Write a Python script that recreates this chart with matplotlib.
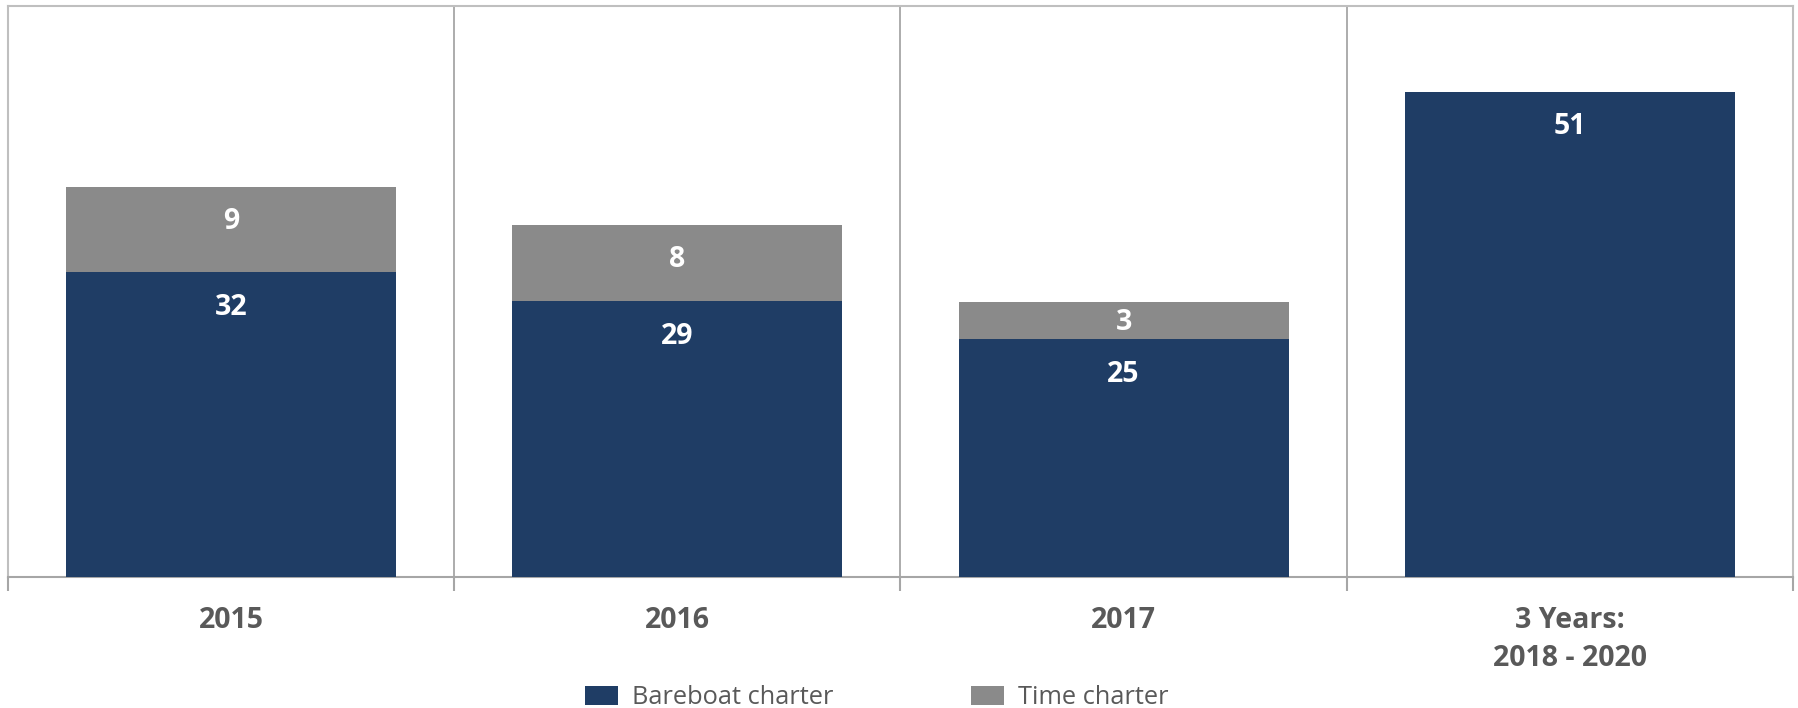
import matplotlib.pyplot as plt
import numpy as np

categories = ["2015", "2016", "2017", "3 Years:\n2018 - 2020"]
bareboat = [32, 29, 25, 51]
time_charter = [9, 8, 3.9, 0]          # drawn heights
time_labels = ["9", "8", "3", ""]      # labels as printed on the picture

BLUE = "#1F3D65"
GREY = "#8A8A8A"
TXT = "#595959"

plt.rcParams['font.family'] = ['Open Sans', 'DejaVu Sans']

fig = plt.figure(figsize=(17.98, 7.08), dpi=100)
ax = fig.add_axes([8 / 1798, 131 / 708, 1785 / 1798, 571 / 708])

x = np.arange(len(categories))
w = 0.74
b1 = ax.bar(x, bareboat, w, color=BLUE, label="Bareboat charter", zorder=3)
b2 = ax.bar(x, time_charter, w, bottom=bareboat, color=GREY, label="Time charter", zorder=3)

# value labels near top of each segment
for i in range(len(x)):
    ax.text(x[i], bareboat[i] - 3.7, str(bareboat[i]), ha="center", va="center",
            color="white", fontsize=20.5, fontweight="bold", zorder=4)
    if time_labels[i]:
        off = min(3.6, time_charter[i] * 0.55)
        ax.text(x[i], bareboat[i] + time_charter[i] - off, time_labels[i],
                ha="center", va="center", color="white", fontsize=20.5,
                fontweight="bold", zorder=4)

ax.set_xlim(-0.5, len(x) - 0.5)
ax.set_ylim(0, 60)
ax.set_yticks([])
ax.set_xticks(x)
ax.set_xticklabels(categories, fontsize=20.5, fontweight="bold", color=TXT, linespacing=1.4)
ax.tick_params(axis="x", which="major", length=0, pad=21)
ax.set_xticks(np.arange(-0.5, len(x), 1), minor=True)
ax.tick_params(axis="x", which="minor", length=10, width=1.5, color="#A6A6A6", direction="out")
for b in np.arange(0.5, len(x) - 0.5, 1):
    ax.axvline(b, color="#A6A6A6", lw=1.3, zorder=1)
for s in ax.spines.values():
    s.set_color("#BFBFBF")
    s.set_linewidth(1.5)
ax.spines["bottom"].set_color("#A6A6A6")

fig.legend(handles=[b1, b2], loc="center", bbox_to_anchor=(877 / 1798, 1 - 698 / 708),
           ncol=2, frameon=False, fontsize=18.3, handlelength=1.3, handleheight=0.75,
           handletextpad=0.55, columnspacing=5.4, labelcolor=TXT,
           borderpad=0, borderaxespad=0)

plt.savefig("out.png", dpi=100)
plt.close()
